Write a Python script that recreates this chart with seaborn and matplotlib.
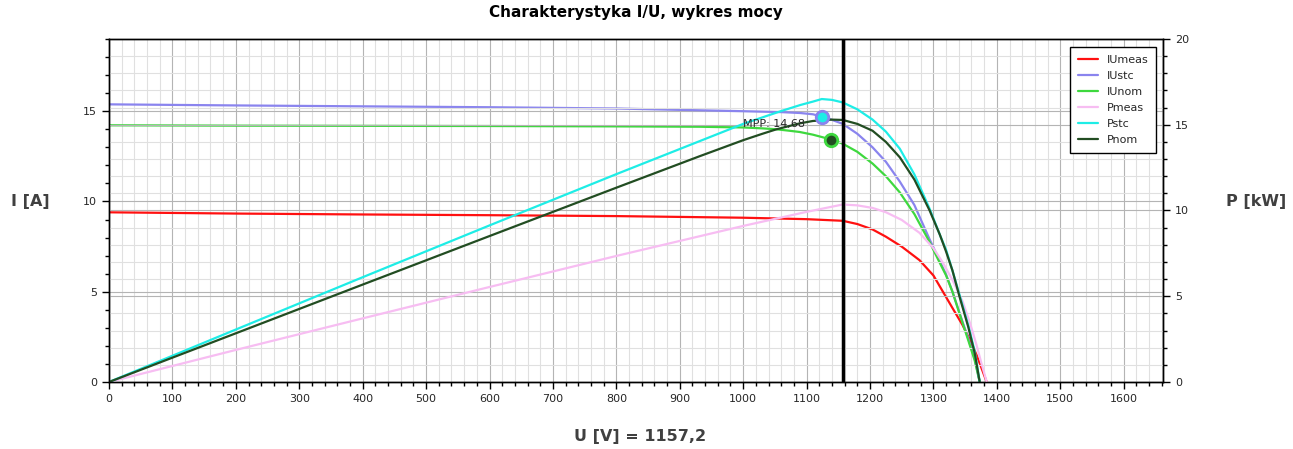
import numpy as np
import pandas as pd
import matplotlib
matplotlib.use('Agg')
import matplotlib.pyplot as plt
import seaborn as sns
from matplotlib.ticker import MultipleLocator

# dane
U_meas = [0, 200, 400, 600, 800, 1000, 1100, 1157, 1180, 1204, 1225, 1250, 1278, 1300,
          1315, 1330, 1346, 1358, 1368, 1376, 1384]
I_meas = [9.40, 9.33, 9.28, 9.24, 9.19, 9.10, 9.02, 8.93, 8.75, 8.45, 8.05, 7.50, 6.75, 5.90,
          5.00, 4.10, 3.15, 2.30, 1.50, 0.75, 0.0]
P_meas = [0, 1.87, 3.71, 5.54, 7.35, 9.10, 9.92, 10.35, 10.30, 10.15, 9.90, 9.45, 8.70, 7.80,
          6.95, 5.95, 4.70, 3.40, 2.15, 1.05, 0.0]

U_stc = [0, 200, 400, 600, 800, 1000, 1060, 1090, 1110, 1124, 1140, 1157, 1180, 1204, 1225,
         1247, 1270, 1294, 1310, 1320, 1330, 1341, 1355, 1365, 1373]
I_stc = [15.38, 15.32, 15.27, 15.22, 15.15, 15.00, 14.95, 14.90, 14.83, 14.70, 14.52, 14.30, 13.75, 13.00, 12.20,
         11.10, 9.80, 7.90, 6.70, 5.95, 5.00, 3.85, 2.40, 1.30, 0.0]
P_stc = [0, 3.06, 6.11, 9.13, 12.12, 15.05, 15.80, 16.15, 16.35, 16.50, 16.45, 16.30, 15.90, 15.30, 14.60,
         13.60, 12.10, 10.10, 8.60, 7.70, 6.50, 5.10, 3.30, 1.80, 0.0]

U_nom = [0, 200, 400, 600, 800, 931, 1000, 1030, 1052, 1070, 1089, 1110, 1139, 1157, 1180, 1204,
         1225, 1247, 1270, 1294, 1310, 1320, 1330, 1341, 1355, 1365, 1373]
I_nom = [14.22, 14.20, 14.19, 14.18, 14.16, 14.14, 14.10, 14.05, 14.00, 13.93, 13.85, 13.70, 13.43, 13.20, 12.75, 12.10,
         11.40, 10.50, 9.30, 7.75, 6.60, 5.90, 5.00, 3.80, 2.30, 1.20, 0.0]
P_nom = [0, 2.84, 5.68, 8.51, 11.33, 13.16, 14.10, 14.47, 14.73, 14.90, 15.08, 15.22, 15.30, 15.28, 15.05, 14.65,
         14.00, 13.10, 11.80, 10.00, 8.60, 7.60, 6.50, 5.00, 3.20, 1.70, 0.0]

U_act = 1157.2
mpp_stc = (1124, 14.68)
mpp_nom = (1139, 13.43)

kolory = {'IUmeas': '#FF1010', 'IUstc': '#8A84EE', 'IUnom': '#3ED83E',
          'Pmeas': '#F7BDF2', 'Pstc': '#1EEDE6', 'Pnom': '#224D22'}

sns.set_theme(style='white')
plt.rcParams['font.family'] = ['DejaVu Sans']

fig = plt.figure(figsize=(12.93, 4.49), dpi=100)
ax = fig.add_axes([109/1293, 1-382/449, (1163-109)/1293, (382-39)/449])
ax2 = ax.twinx()

# siatka
ax.xaxis.set_major_locator(MultipleLocator(100))
ax.xaxis.set_minor_locator(MultipleLocator(20))
ax.yaxis.set_major_locator(MultipleLocator(5))
ax.yaxis.set_minor_locator(MultipleLocator(1))
ax2.yaxis.set_major_locator(MultipleLocator(5))
ax2.yaxis.set_minor_locator(MultipleLocator(1))
ax.grid(which='major', color='#B4B4B4', lw=0.8)
ax.grid(which='minor', axis='x', color='#E0E0E0', lw=0.8)
ax2.grid(which='major', axis='y', color='#B4B4B4', lw=0.8)
ax2.grid(which='minor', axis='y', color='#E0E0E0', lw=0.8)
ax.set_axisbelow(True)

df_meas = pd.DataFrame({'U': U_meas, 'I': I_meas, 'P': P_meas})
df_stc = pd.DataFrame({'U': U_stc, 'I': I_stc, 'P': P_stc})
df_nom = pd.DataFrame({'U': U_nom, 'I': I_nom, 'P': P_nom})

linie = []
# prądy
linie.append(sns.lineplot(data=df_meas, x='U', y='I', sort=False, ax=ax, color=kolory['IUmeas'], lw=1.6).lines[-1])
linie.append(sns.lineplot(data=df_stc, x='U', y='I', sort=False, ax=ax, color=kolory['IUstc'], lw=1.6).lines[-1])
linie.append(sns.lineplot(data=df_nom, x='U', y='I', sort=False, ax=ax, color=kolory['IUnom'], lw=1.6).lines[-1])
# moce
linie.append(sns.lineplot(data=df_meas, x='U', y='P', sort=False, ax=ax2, color=kolory['Pmeas'], lw=1.6).lines[-1])
linie.append(sns.lineplot(data=df_stc, x='U', y='P', sort=False, ax=ax2, color=kolory['Pstc'], lw=1.6).lines[-1])
linie.append(sns.lineplot(data=df_nom, x='U', y='P', sort=False, ax=ax2, color=kolory['Pnom'], lw=1.6).lines[-1])

# punkty MPP na osi prądu (rysowane na ax2 w przeliczeniu, żeby były na wierzchu)
skala = 20 / 19
ax2.plot(mpp_stc[0], mpp_stc[1] * skala, 'o', ms=9, mfc=kolory['Pstc'], mec=kolory['IUstc'], mew=2, zorder=5)
ax2.plot(mpp_nom[0], mpp_nom[1] * skala, 'o', ms=9, mfc=kolory['Pnom'], mec=kolory['IUnom'], mew=2, zorder=5)
ax2.text(999, 14.3 * skala, 'MPP: 14,68', fontsize=8, ha='left', va='center', zorder=6)

ax2.axvline(U_act, color='black', lw=2.5, zorder=4)

ax.set_xlim(0, 1662)
ax.set_ylim(0, 19)
ax2.set_ylim(0, 20)

for a in (ax, ax2):
    a.tick_params(which='major', length=5, width=1, color='black', labelsize=8, direction='out')
    a.tick_params(which='minor', length=3, width=1, color='black', direction='out')
    for s in a.spines.values():
        s.set_color('black')
        s.set_linewidth(1)
ax.tick_params(axis='x', which='both', bottom=True)
ax.tick_params(axis='y', which='both', left=True)
ax2.tick_params(axis='y', which='both', right=True)

ax.set_xlabel('')
ax.set_ylabel('')
ax2.set_ylabel('')

nazwy = ['IUmeas', 'IUstc', 'IUnom', 'Pmeas', 'Pstc', 'Pnom']
leg = ax2.legend(linie, nazwy, loc='upper right', bbox_to_anchor=(1 - 7/1054, 1 - 8/343),
                 borderaxespad=0, fontsize=8, frameon=True, fancybox=False, edgecolor='black',
                 handlelength=1.8, labelspacing=0.55, borderpad=0.7, framealpha=1)
leg.get_frame().set_linewidth(1)
leg.set_zorder(10)

szary = '#404040'
fig.text(636/1293, 1 - 12/449, 'Charakterystyka I/U, wykres mocy', ha='center', va='center',
         fontsize=11, fontweight='bold', color='black')
fig.text(30/1293, 1 - 201/449, 'I [A]', ha='center', va='center', fontsize=11.5, fontweight='bold', color=szary)
fig.text(1256/1293, 1 - 201/449, 'P [kW]', ha='center', va='center', fontsize=11.5, fontweight='bold', color=szary)
fig.text(640/1293, 1 - 437/449, 'U [V] = 1157,2', ha='center', va='center', fontsize=11.5, fontweight='bold', color=szary)

fig.savefig('out.png', dpi=100)
